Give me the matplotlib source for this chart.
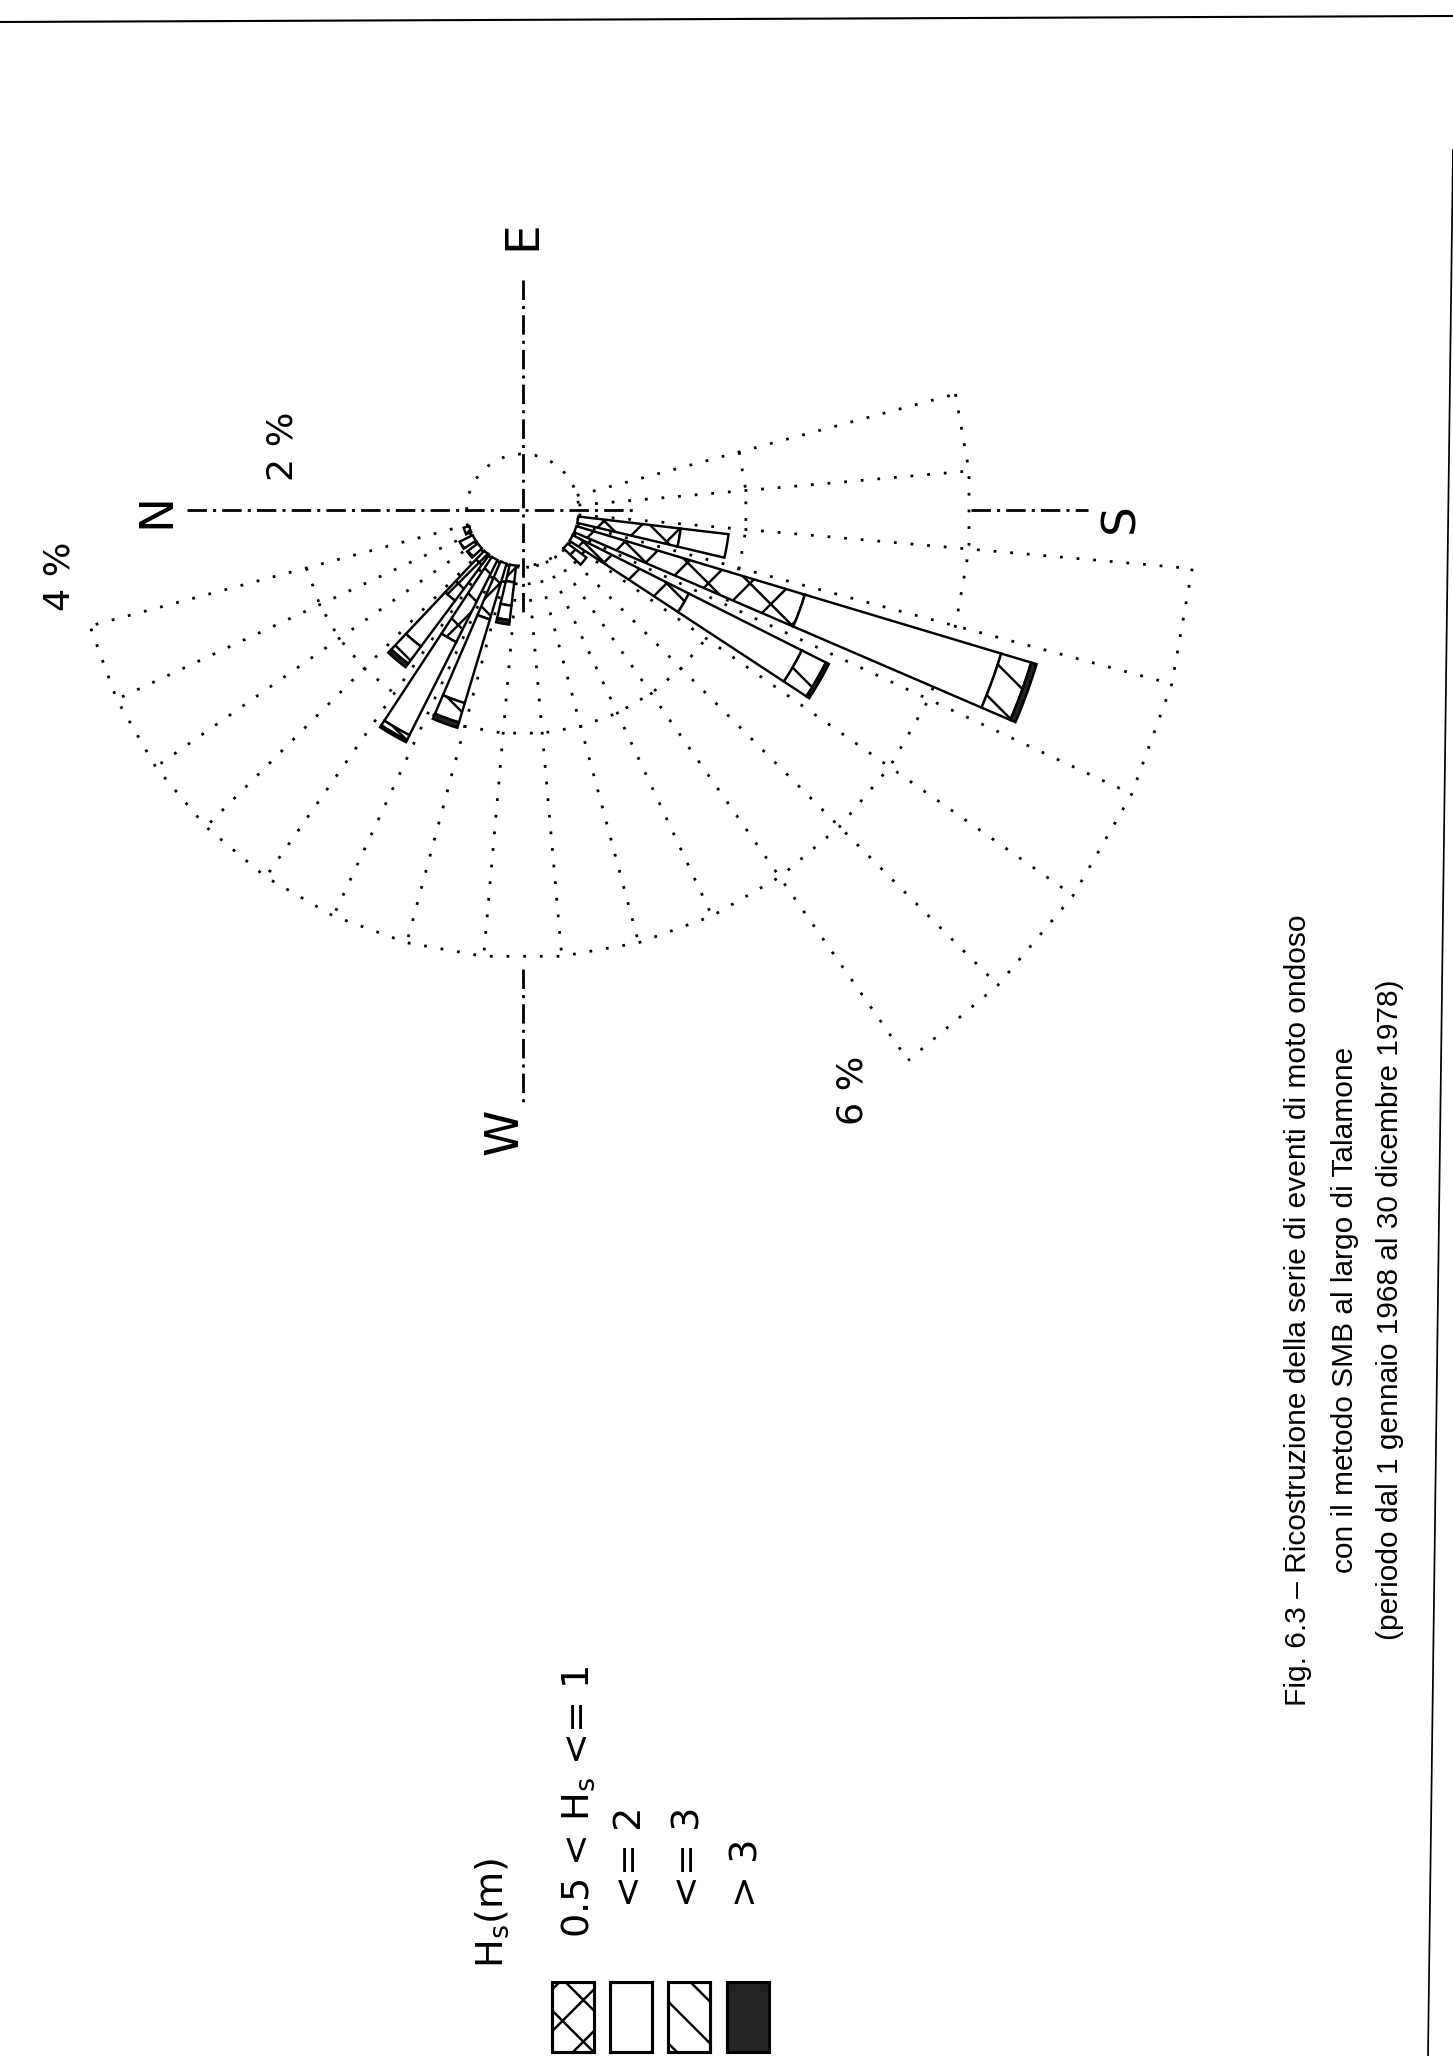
import numpy as np
import matplotlib
import matplotlib.pyplot as plt
from matplotlib.patches import Rectangle

matplotlib.use("Agg")

# wave rose data: sector centres (deg from north, clockwise) and frequency (%) per Hs class
directions = [190, 200, 210, 220, 280, 290, 300, 310, 320, 330, 340]
freq_05_1 = [0.92, 2.13, 1.16, 0.21, 0.15, 0.52, 0.82, 0.51, 0.12, 0.13, 0.05]
freq_1_2 = [0.43, 1.83, 1.13, 0.00, 0.21, 0.78, 0.93, 0.51, 0.00, 0.00, 0.00]
freq_2_3 = [0.00, 0.28, 0.24, 0.00, 0.13, 0.18, 0.05, 0.19, 0.00, 0.00, 0.00]
freq_gt3 = [0.00, 0.05, 0.03, 0.00, 0.04, 0.05, 0.02, 0.04, 0.00, 0.00, 0.00]
calm = 0.5  # radius of the inner (calm) circle, %

class_labels = ["0.5 < H$_{\\rm s}$ <= 1", "<= 2", "<= 3", "> 3"]
ring_values = [2, 4, 6]
ring_labels = ["2 %", "4 %", "6 %"]
compass_labels = ["N", "E", "S", "W"]
caption = [
    "Fig. 6.3 \u2013 Ricostruzione della serie di eventi di moto ondoso",
    "con il metodo SMB al largo di Talamone",
    "(periodo dal 1 gennaio 1968 al 30 dicembre 1978)",
]

# page geometry (pixels of the scanned page)
W_PX, H_PX, DPI = 1453, 2056, 250
CX, CY = 522.7, 510.0  # rose centre
PX_PER_PCT = 112.0
RMAX = 6.4


def fx(x):
    return x / W_PX


def fy(y):
    return 1 - y / H_PX


plt.rcParams["hatch.linewidth"] = 0.7
fig = plt.figure(figsize=(W_PX / DPI, H_PX / DPI), dpi=DPI)
fig.patch.set_facecolor("white")

R = RMAX * PX_PER_PCT
ax = fig.add_axes([fx(CX - R), fy(CY + R), 2 * R / W_PX, 2 * R / H_PX], projection="polar")
ax.set_theta_zero_location("W")  # page is turned: north points left
ax.set_theta_direction(-1)
ax.set_ylim(0, RMAX)
ax.axis("off")

dot = dict(color="black", lw=0.8, linestyle=(0, (1, 5)), zorder=1)
dashdot = dict(color="black", lw=0.8, linestyle=(0, (7, 2.2, 1.1, 2.2)), zorder=1)

# dotted sector grid
grid_from, grid_to = 165, 345
wide_from, wide_to = 185, 235
edges = np.arange(grid_from, grid_to + 1, 10)
for b in edges:
    r_out = 6 if wide_from <= b <= wide_to else 4
    ax.plot([np.radians(b)] * 2, [calm, r_out], **dot)
for rv in ring_values:
    e = edges if rv < 6 else edges[(edges >= wide_from) & (edges <= wide_to)]
    ax.plot(np.radians(e), np.full(len(e), rv), **dot)
circ = np.linspace(0, 2 * np.pi, 120)
ax.plot(circ, np.full(len(circ), calm), **dot)

# compass axes (dash-dot)
ax.plot(np.radians([0, 180]), [3.0, 1.03], **dashdot)
ax.plot(np.radians([90, 270]), [2.05, 0.95], **dashdot)
ax.plot(np.radians([180, 180]), [4.0, 5.05], **dashdot)
ax.plot(np.radians([270, 270]), [4.1, 5.3], **dashdot)

# stacked bars
theta = np.radians(directions)
width = np.radians(6.6)
styles = [
    dict(facecolor="white", hatch="xx"),
    dict(facecolor="white", hatch=""),
    dict(facecolor="white", hatch="\\\\"),
    dict(facecolor="#222222", hatch=""),
]
bottom = np.full(len(directions), calm)
for vals, st in zip([freq_05_1, freq_1_2, freq_2_3, freq_gt3], styles):
    vals = np.array(vals)
    m = vals > 0
    ax.bar(theta[m], vals[m], width=width, bottom=bottom[m], edgecolor="black",
           linewidth=0.7, zorder=3, **st)
    bottom = bottom + vals

# labels (text turned with the page)
for lab, (b, r) in zip(compass_labels, [(0, 3.27), (90, 2.45), (180.8, 5.34), (271.6, 5.55)]):
    ax.text(np.radians(b), r, lab, rotation=90, ha="center", va="center", fontsize=13.5)
for lab, (b, r) in zip(ring_labels, [(14.9, 2.22), (351.8, 4.18), (240.4, 5.96)]):
    ax.text(np.radians(b), r, lab, rotation=90, ha="center", va="center", fontsize=10.5)

# legend
fig.text(fx(492), fy(1968), "H$_{\\rm s}$(m)", rotation=90, ha="center", va="bottom", fontsize=11)
box_x = [552, 610, 668, 727]
text_x = [578, 631, 690, 748]
text_y = [1938, 1907, 1907, 1907]
for lab, st, bx, tx, ty in zip(class_labels, styles, box_x, text_x, text_y):
    fig.patches.append(Rectangle((fx(bx), fy(2052)), 42 / W_PX, 70 / H_PX,
                                 transform=fig.transFigure, edgecolor="black",
                                 linewidth=0.9, **st))
    fig.text(fx(tx), fy(ty), lab, rotation=90, ha="center", va="bottom", fontsize=11)

# caption
for line, x in zip(caption, [1298, 1345, 1390]):
    fig.text(fx(x), fy(1310), line, rotation=90, ha="center", va="center", fontsize=8.6,
             family=["Liberation Sans", "DejaVu Sans"])

# page edges of the scan
fig.add_artist(plt.Line2D([0, 1], [fy(22), fy(16)], color="black", lw=0.6, transform=fig.transFigure))
fig.add_artist(plt.Line2D([fx(1453), fx(1428)], [fy(150), fy(2056)], color="black", lw=0.5,
                          transform=fig.transFigure))

fig.savefig("out.png", dpi=DPI)
